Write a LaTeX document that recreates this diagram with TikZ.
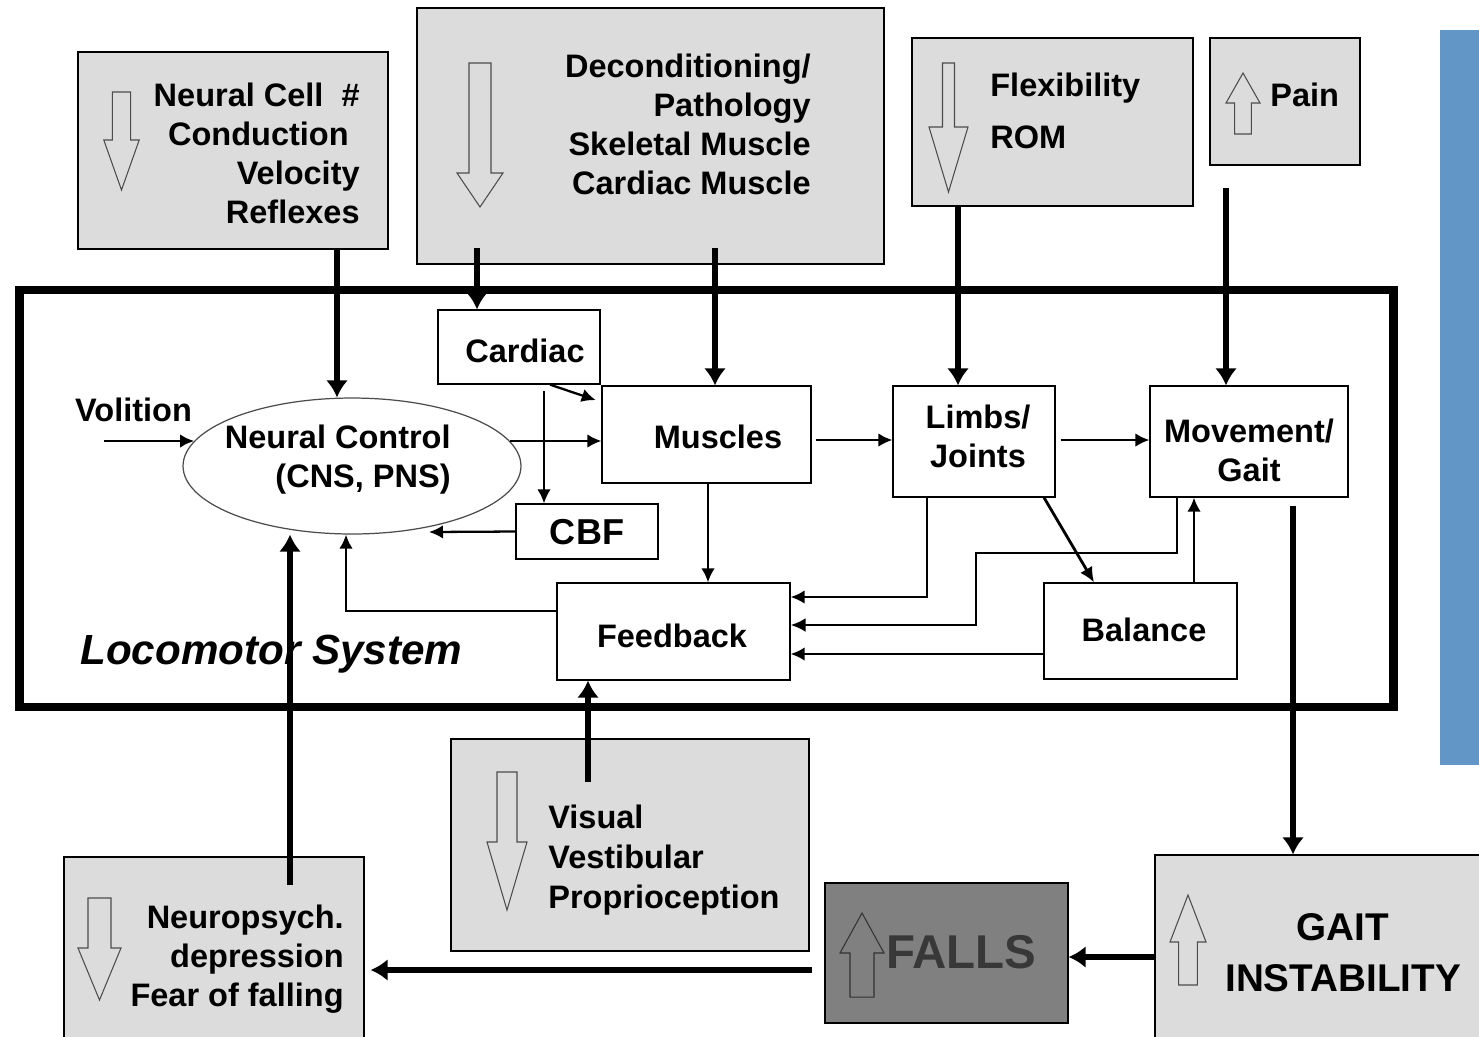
\documentclass[tikz,border=0pt]{standalone}
\usepackage{fontspec}
\setmainfont{Liberation Sans}
\usetikzlibrary{arrows.meta,shapes.geometric}
\definecolor{boxgray}{HTML}{DCDCDC}
\definecolor{fallgray}{HTML}{808080}
\definecolor{falltext}{HTML}{383838}
\definecolor{sideblue}{HTML}{6196C7}
% hollow block arrow: [style]{x}{base y}{head y}{tip y}{shaft half}{head half}
\newcommand{\blockarrow}[7][]{%
  \draw[blockline,#1] ({#2-#6},#3) -- ({#2+#6},#3) -- ({#2+#6},#4) -- ({#2+#7},#4) -- (#2,#5) -- ({#2-#7},#4) -- ({#2-#6},#4) -- cycle;}

\begin{document}
\begin{tikzpicture}[x=0.02cm,y=-0.02cm,
  graybox/.style={draw=black,line width=0.7pt,fill=boxgray,inner sep=0pt},
  whitebox/.style={draw=black,line width=0.7pt,fill=white,inner sep=0pt},
  lbl/.style={inner sep=0pt,font=\fontsize{18.5}{22.2}\selectfont\bfseries},
  blockline/.style={draw=black!70,line width=0.6pt},
  thickarrow/.style={line width=3pt,-{Latex[length=0.34cm,width=0.44cm]}},
  midarrow/.style={line width=1.3pt,-{Latex[length=0.28cm,width=0.27cm]}},
  heavyarrow/.style={line width=1.6pt,-{Latex[length=0.3cm,width=0.28cm]}}]
  \useasboundingbox (0,0) rectangle (1479,1036);
  \clip (0,0) rectangle (1479,1036);
  \fill[white] (0,0) rectangle (1479,1036);
  % locomotor system frame
  \node[draw,line width=5pt,minimum width=27.5cm,minimum height=8.34cm,inner sep=0pt] (locosys) at (706.5,498.5) {};
  \node[inner sep=0pt,anchor=west,font=\fontsize{24}{28}\selectfont\bfseries\itshape] (locolbl) at (80,654) {Locomotor System};
  \fill[sideblue] (1440,30) rectangle (1490,765);
  % upper boxes
  \node[graybox,minimum width=6.2cm,minimum height=3.94cm] (ncell) at (233,150.5) {};
  \node[graybox,minimum width=9.34cm,minimum height=5.12cm] (decond) at (650.5,136) {};
  \node[graybox,minimum width=5.62cm,minimum height=3.36cm] (flex) at (1052.5,122) {};
  \node[graybox,minimum width=3cm,minimum height=2.54cm] (pain) at (1285,101.5) {};
  \node[lbl,align=right,anchor=east] (ncelltxt) at (360,153) {Neural Cell~~\#\\Conduction\rule{0.22cm}{0pt}\\Velocity\\Reflexes};
  \node[lbl,align=right,anchor=east] (decondtxt) at (811,124) {Deconditioning/\\Pathology\\Skeletal Muscle\\Cardiac Muscle};
  \node[lbl,align=left,anchor=west,font=\fontsize{18.5}{29.6}\selectfont\bfseries] (flextxt) at (990,111) {Flexibility\\ROM};
  \node[lbl,anchor=west] (paintxt) at (1270,95) {Pain};
  \blockarrow{121.5}{92}{140}{190}{9.2}{17.7}
  \blockarrow{480}{63}{173}{207}{11}{23}
  \blockarrow{948.5}{63}{127}{192}{6}{19.5}
  \blockarrow{1243}{134}{103}{73}{8.3}{17}
  % inner boxes
  \node[ellipse,draw=black!70,line width=0.7pt,fill=white,minimum width=6.76cm,minimum height=2.72cm,inner sep=0pt] (nctrl) at (352,466) {};
  \node[whitebox,minimum width=3.24cm,minimum height=1.48cm] (cardiac) at (519,347) {};
  \node[whitebox,minimum width=4.18cm,minimum height=1.94cm] (muscles) at (706.5,434.5) {};
  \node[whitebox,minimum width=3.24cm,minimum height=2.22cm] (limbs) at (974,441.5) {};
  \node[whitebox,minimum width=3.96cm,minimum height=2.22cm] (movement) at (1249,441.5) {};
  \node[whitebox,minimum width=2.84cm,minimum height=1.1cm] (cbf) at (587,531.5) {};
  \node[whitebox,minimum width=4.66cm,minimum height=1.94cm] (feedback) at (673.5,631.5) {};
  \node[whitebox,minimum width=3.86cm,minimum height=1.92cm] (balance) at (1140.5,631) {};
  \node[lbl,align=right,anchor=east] (nctrltxt) at (451,460) {Neural Control\\(CNS, PNS)};
  \node[lbl] (volition) at (133.5,410) {Volition};
  \node[lbl] (cardiactxt) at (525,351) {Cardiac};
  \node[lbl] (musclestxt) at (718,437) {Muscles};
  \node[lbl,align=center] (limbstxt) at (978,436.5) {Limbs/\\Joints};
  \node[lbl,align=center] (movementtxt) at (1249,450) {Movement/\\Gait};
  \node[lbl,font=\fontsize{20.5}{24}\selectfont\bfseries] (cbftxt) at (587,532) {CBF};
  \node[lbl] (feedbacktxt) at (672,636) {Feedback};
  \node[lbl] (balancetxt) at (1144,630) {Balance};
  % lower boxes
  \node[graybox,minimum width=7.16cm,minimum height=4.24cm] (visual) at (630,845) {};
  \node[graybox,minimum width=6cm,minimum height=3.86cm] (neuro) at (214,953.5) {};
  \node[draw=black,line width=0.7pt,fill=fallgray,inner sep=0pt,minimum width=4.86cm,minimum height=2.8cm] (falls) at (946.5,953) {};
  \node[graybox,minimum width=6.9cm,minimum height=3.9cm] (gait) at (1327.5,952.5) {};
  \node[lbl,align=left,anchor=west,font=\fontsize{18.5}{22.8}\selectfont\bfseries] (visualtxt) at (548,860) {Visual\\Vestibular\\Proprioception};
  \node[lbl,align=right,anchor=east] (neurotxt) at (344,959) {Neuropsych.\\depression\\Fear of falling};
  \node[inner sep=0pt,anchor=west,text=falltext,font=\fontsize{27}{30}\selectfont\bfseries] (fallstxt) at (886,952) {FALLS};
  \node[inner sep=0pt,align=center,font=\fontsize{22}{29}\selectfont\bfseries] (gaittxt) at (1343,952.5) {GAIT\\INSTABILITY};
  \blockarrow{507}{772}{842}{910}{10}{20}
  \blockarrow{99.5}{898}{948}{1000}{11.5}{21.5}
  \blockarrow[draw=black!80]{862}{997}{953}{913}{12}{22}
  \blockarrow{1188}{985}{942}{895}{9.3}{18}
  % connectors from the upper boxes
  \coordinate (decondL) at (477,248);
  \coordinate (decondR) at (715,248);
  \coordinate (painfoot) at (1226,188);
  \draw[thickarrow] (ncell.south -| 337,0) -- (nctrl.north -| 337,0);
  \draw[thickarrow] (decondL) -- (cardiac.north -| decondL);
  \draw[thickarrow] (decondR) -- (muscles.north -| decondR);
  \draw[thickarrow] (flex.south -| 958,0) -- (limbs.north -| 958,0);
  \draw[thickarrow] (painfoot) -- (movement.north -| painfoot);
  % connectors inside the system
  \coordinate (volstart) at (104,441);
  \coordinate (cbftip) at (429,532);
  \draw[midarrow] (volstart) -- (volstart -| nctrl.171);
  \draw[midarrow] (nctrl.9) -- (nctrl.9 -| muscles.west);
  \draw[midarrow,shorten >=0.12cm] (cardiac.south -| 550,0) -- (muscles.west |- 0,402);
  \draw[midarrow,shorten <=0.12cm] (cardiac.south -| 544,0) -- (cbf.north -| 544,0);
  \draw[midarrow] (cbf.west) -- (cbftip);
  \draw[midarrow] (feedback.west |- 0,611) -| (nctrl.south -| 346,0);
  \draw[midarrow] (muscles.south -| 708,0) -- (feedback.north -| 708,0);
  \draw[midarrow,shorten <=0.08cm] (muscles.east |- 0,440) -- (limbs.west |- 0,440);
  \draw[midarrow,shorten <=0.1cm] (limbs.east |- 0,440) -- (movement.west |- 0,440);
  \draw[midarrow] (limbs.south -| 927,0) |- (feedback.east |- 0,597);
  \draw[heavyarrow] (movement.south -| 1177,0) |- (976,553) |- (feedback.east |- 0,625);
  \draw[midarrow] (balance.west |- 0,654) -- (feedback.east |- 0,654);
  \draw[heavyarrow] (limbs.south -| 1044,0) -- (balance.north -| 1094,0);
  \draw[midarrow] (balance.north -| 1194,0) -- (movement.south -| 1194,0);
  % connectors to the lower boxes
  \coordinate (neurofoot) at (290,885);
  \coordinate (visualfoot) at (588,782);
  \draw[thickarrow,shorten <=0.16cm] (movement.south -| 1293,0) -- (gait.north -| 1293,0);
  \draw[thickarrow] (gait.west |- 0,957) -- (falls.east |- 0,957);
  \draw[thickarrow,shorten <=0.24cm,shorten >=0.12cm] (falls.west |- 0,970) -- (neuro.east |- 0,970);
  \draw[thickarrow] (neurofoot) -- (nctrl.south -| neurofoot);
  \draw[thickarrow] (visualfoot) -- (feedback.south -| visualfoot);
\end{tikzpicture}
\end{document}
